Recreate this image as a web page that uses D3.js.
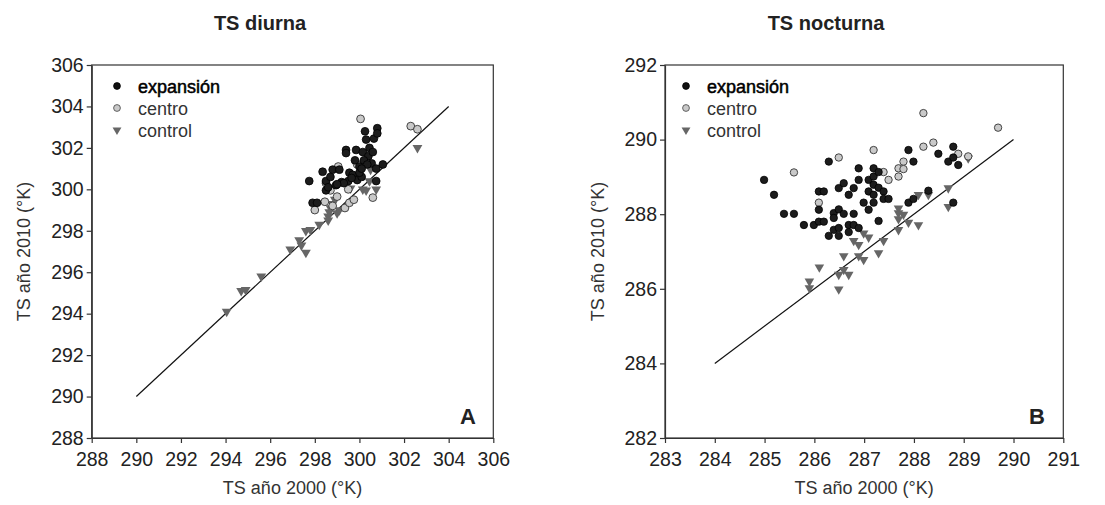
<!DOCTYPE html>
<html>
<head>
<meta charset="UTF-8">
<style>
  body { margin: 0; background: #fff; }
  svg { display: block; }
  .tick text { font-family: "Liberation Sans", Arial, sans-serif; font-size: 19.5px; fill: #222; }
  .lab { font-family: "Liberation Sans", Arial, sans-serif; font-size: 18px; fill: #333; }
  .title { font-family: "Liberation Sans", Arial, sans-serif; font-size: 20px; font-weight: bold; fill: #222; }
</style>
</head>
<body>
<svg width="1105" height="505"></svg>
<script src="https://d3js.org/d3.v7.min.js"></script>
<script>
// ---- data: panel A (TS diurna) ----
const diurnaExpX = [297.75,297.9,298.1,298.35,298.5,298.5,298.7,298.8,298.95,299.2,299.1,299.4,299.4,299.55,299.5,299.7,299.85,299.8,299.9,300.0,300.1,300.15,300.25,300.3,300.4,300.45,300.6,300.55,300.65,300.8,300.8,300.75,300.75,301.05,300.2,300.0,299.3,298.6,299.0,299.65,300.35,300.1];
const diurnaExpY = [300.4,299.35,299.35,300.85,299.95,300.4,300.6,300.95,300.2,300.35,300.95,301.9,301.75,300.8,300.4,300.7,301.9,301.4,300.45,301.1,300.6,301.8,302.8,302.4,301.6,302.0,301.8,301.25,302.45,302.95,302.7,300.4,301.0,301.2,301.4,300.8,300.3,300.1,300.25,300.55,301.2,301.0];
const diurnaCenX = [300.05,302.3,302.6,298.0,298.45,298.5,298.7,299.0,299.05,299.35,299.55,299.75,299.5,299.9,300.6,298.8];
const diurnaCenY = [303.4,303.05,302.9,299.0,299.4,300.3,299.95,299.65,301.1,299.1,299.35,299.5,300.0,301.2,299.6,299.2];
const diurnaConX = [294.05,294.7,294.9,295.6,296.9,297.3,297.6,297.4,297.6,297.8,298.2,298.6,298.6,298.65,298.8,298.9,299.0,299.6,300.15,300.3,300.45,300.5,300.75,302.6,298.7,299.1];
const diurnaConY = [294.1,295.1,295.15,295.8,297.1,297.55,296.95,297.3,298.0,298.05,298.3,298.5,298.7,298.9,299.3,299.5,298.85,300.05,300.0,299.95,300.4,300.95,300.0,302.0,299.1,299.0];

// ---- data: panel B (TS nocturna) ----
const noctExpX = [284.99,285.19,285.39,285.59,285.79,285.99,286.09,286.19,286.09,286.09,286.19,286.29,286.29,286.39,286.39,286.39,286.49,286.49,286.49,286.49,286.59,286.59,286.69,286.69,286.69,286.79,286.79,286.79,286.89,286.89,286.89,286.99,287.09,287.09,287.09,287.19,287.19,287.19,287.19,287.19,287.29,287.29,287.29,287.39,287.39,287.49,287.89,287.89,287.99,287.99,288.29,288.49,288.69,288.79,288.79,288.79,288.89];
const noctExpY = [288.92,288.52,288.01,288.01,287.71,287.71,288.61,288.61,288.12,287.8,287.8,289.41,287.42,288.03,287.9,287.58,288.13,288.7,287.63,287.42,288.83,288.01,288.52,287.71,287.52,288.7,288.01,287.71,289.23,288.92,287.63,288.31,288.92,288.61,288.12,289.23,289.01,288.79,288.52,288.31,289.13,288.71,287.82,288.61,288.41,288.41,289.72,288.31,289.41,288.41,288.63,289.62,289.41,289.81,289.52,288.31,289.32];
const noctCenX = [285.59,286.09,286.49,287.19,287.39,287.49,287.69,287.69,287.79,287.79,288.19,288.19,288.39,288.89,289.09,289.69];
const noctCenY = [289.12,288.31,289.52,289.72,289.13,288.92,289.23,289.01,289.41,289.21,290.71,289.81,289.92,289.62,289.55,290.32];
const noctConX = [285.9,285.9,286.1,286.49,286.49,286.59,286.59,286.69,286.79,286.89,286.89,286.99,286.99,287.09,287.29,287.39,287.69,287.69,287.69,287.69,287.79,287.89,288.09,288.09,288.29,288.69,288.69,289.09];
const noctConY = [286.2,286.02,286.58,286.38,285.99,286.88,286.51,286.38,287.29,287.18,286.88,287.49,286.78,287.38,286.96,287.29,288.16,288.03,287.87,287.58,287.99,287.78,287.71,288.52,288.52,288.7,288.2,289.5];

const seriesNames = ["expansión", "centro", "control"];
const diurnaTicks = [288,290,292,294,296,298,300,302,304,306];
const noctXTicks = [283,284,285,286,287,288,289,290,291];
const noctYTicks = [282,284,286,288,290,292];

const svg = d3.select("svg");

function zip(xs, ys) { return xs.map((x, i) => [x, ys[i]]); }

function drawPanel(p) {
  const x = d3.scaleLinear().domain(p.xDomain).range([p.left, p.right]);
  const y = d3.scaleLinear().domain(p.yDomain).range([p.bottom, p.top]);
  const g = svg.append("g");

  // frame
  g.append("rect")
    .attr("x", p.left).attr("y", p.top)
    .attr("width", p.right - p.left).attr("height", p.bottom - p.top)
    .attr("fill", "none").attr("stroke", "#333").attr("stroke-width", 1.2);

  const xAxis = g.append("g").attr("transform", `translate(0,${p.bottom})`)
    .call(d3.axisBottom(x).tickValues(p.xTicks).tickSize(5).tickSizeOuter(0).tickFormat(d3.format("d")));
  const yAxis = g.append("g").attr("transform", `translate(${p.left},0)`)
    .call(d3.axisLeft(y).tickValues(p.yTicks).tickSize(5).tickSizeOuter(0).tickFormat(d3.format("d")));
  [xAxis, yAxis].forEach(a => {
    a.select(".domain").attr("stroke", "#333").attr("stroke-width", 1.2);
    a.selectAll(".tick line").attr("stroke", "#333").attr("stroke-width", 1.2);
  });
  xAxis.selectAll(".tick text").attr("dy", "1.05em");

  // 1:1 line
  g.append("line")
    .attr("x1", x(p.line[0])).attr("y1", y(p.line[0]))
    .attr("x2", x(p.line[1])).attr("y2", y(p.line[1]))
    .attr("stroke", "#111").attr("stroke-width", 1.2);

  const tri = d3.symbol().type(d3.symbolTriangle).size(p.triSize);

  g.append("g").selectAll("path").data(zip(p.conX, p.conY)).join("path")
    .attr("d", tri)
    .attr("transform", d => `translate(${x(d[0])},${y(d[1])}) rotate(180)`)
    .attr("fill", "#666");

  g.append("g").selectAll("circle").data(zip(p.cenX, p.cenY)).join("circle")
    .attr("cx", d => x(d[0])).attr("cy", d => y(d[1])).attr("r", p.r)
    .attr("fill", "#c9c9c9").attr("stroke", "#333").attr("stroke-width", 0.9);

  g.append("g").selectAll("circle").data(zip(p.expX, p.expY)).join("circle")
    .attr("cx", d => x(d[0])).attr("cy", d => y(d[1])).attr("r", p.r)
    .attr("fill", "#1c1c1c").attr("stroke", "#000").attr("stroke-width", 0.8);

  // legend
  const lg = g.append("g");
  seriesNames.forEach((name, i) => {
    const cy = 86 + i * 22;
    if (i === 2) {
      lg.append("path").attr("d", d3.symbol().type(d3.symbolTriangle).size(34))
        .attr("transform", `translate(${p.legX},${cy}) rotate(180)`).attr("fill", "#666");
    } else {
      lg.append("circle").attr("cx", p.legX).attr("cy", cy).attr("r", 3.4)
        .attr("fill", i === 0 ? "#111" : "#c9c9c9")
        .attr("stroke", i === 0 ? "#000" : "#444").attr("stroke-width", 0.8);
    }
    lg.append("text").attr("class", "lab")
      .attr("x", p.legX + 21).attr("y", cy + 6.5)
      .style("fill", i === 0 ? "#000" : "#333")
      .style("stroke", i === 0 ? "#000" : "none")
      .style("stroke-width", 0.5)
      .text(name);
  });

  // titles
  g.append("text").attr("class", "title").attr("text-anchor", "middle")
    .attr("x", p.titleX).attr("y", 30).text(p.title);
  g.append("text").attr("class", "lab").attr("text-anchor", "middle")
    .attr("x", (p.left + p.right) / 2).attr("y", 494).text("TS año 2000 (°K)");
  g.append("text").attr("class", "lab").attr("text-anchor", "middle")
    .attr("transform", `translate(${p.yLabX},${(p.top + p.bottom) / 2}) rotate(-90)`)
    .text("TS año 2010 (°K)");
  g.append("text").attr("class", "title").attr("text-anchor", "middle")
    .attr("x", p.letterX).attr("y", 424).style("font-size", "22px").text(p.letter);
}

drawPanel({
  left: 91.7, right: 493.3, top: 65, bottom: 438,
  xDomain: [288, 306], yDomain: [288, 306],
  xTicks: diurnaTicks, yTicks: diurnaTicks, line: [290, 304],
  expX: diurnaExpX, expY: diurnaExpY, cenX: diurnaCenX, cenY: diurnaCenY,
  conX: diurnaConX, conY: diurnaConY,
  r: 3.9, triSize: 42, legX: 117,
  title: "TS diurna", titleX: 260, yLabX: 30, letter: "A", letterX: 468
});

drawPanel({
  left: 665, right: 1063.3, top: 65, bottom: 438,
  xDomain: [283, 291], yDomain: [282, 292],
  xTicks: noctXTicks, yTicks: noctYTicks, line: [284, 290],
  expX: noctExpX, expY: noctExpY, cenX: noctCenX, cenY: noctCenY,
  conX: noctConX, conY: noctConY,
  r: 3.7, triSize: 40, legX: 686,
  title: "TS nocturna", titleX: 826, yLabX: 604, letter: "B", letterX: 1037
});
</script>
</body>
</html>
